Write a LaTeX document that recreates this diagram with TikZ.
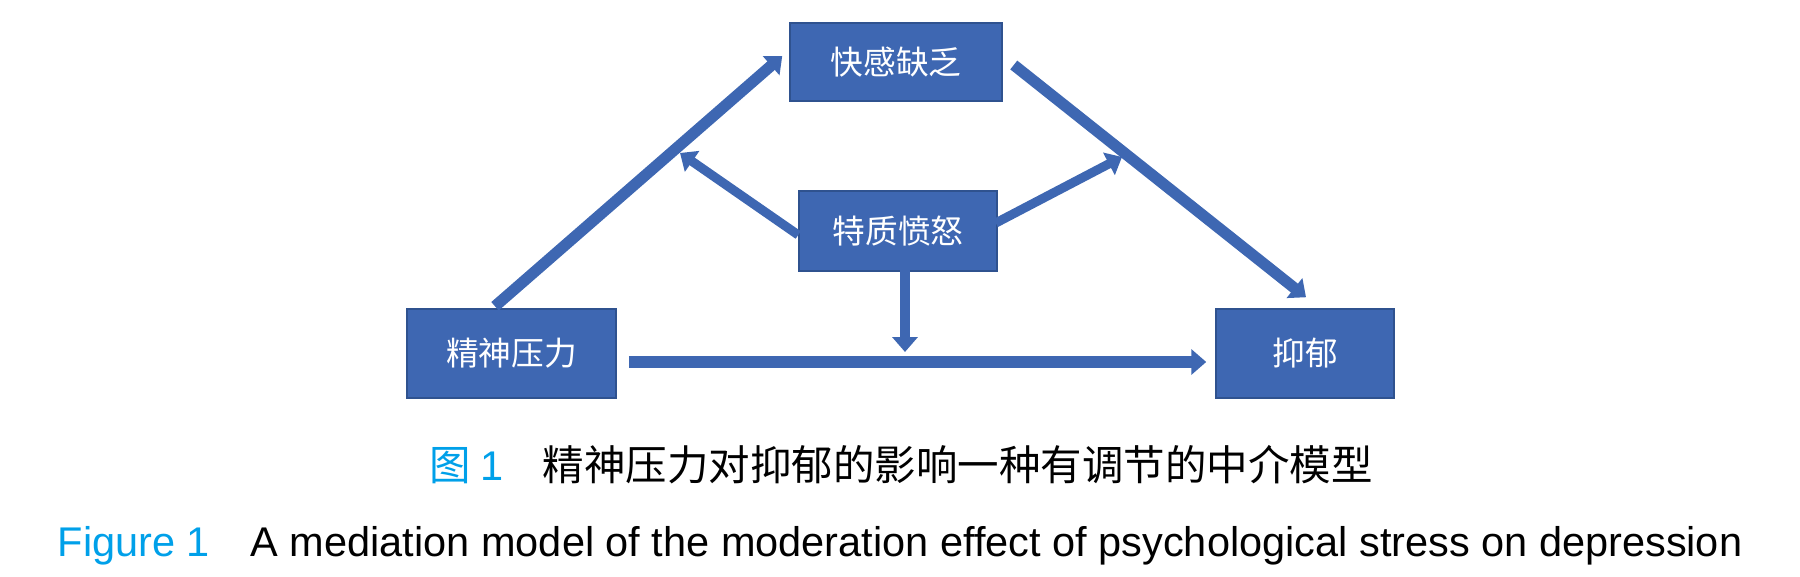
\documentclass[tikz,border=0pt]{standalone}
\usepackage{fontspec}
\usetikzlibrary{arrows.meta, calc}

\newfontfamily\cjk{Noto Sans CJK SC}
\newfontfamily\arial{Liberation Sans}

\definecolor{boxblue}{RGB}{62,103,178}
\definecolor{boxline}{RGB}{47,82,143}
\definecolor{capblue}{RGB}{0,160,233}

\tikzset{
	var/.style = {draw = boxline, fill = boxblue, text = white, inner sep = 0pt, font = \fontsize{9.3}{11}\cjk},
	captext/.style = {anchor = base west, inner sep = 0pt}
}

\begin{document}
\begin{tikzpicture}[> = {Triangle[length = 4.2pt, width = 7pt]}, x = 0.01cm, y = -0.01cm]
	
	\useasboundingbox (0, 0) rectangle (1800, 577);
	
	% The four variables
	
	\node [var, minimum width = 2.12cm, minimum height = 0.78cm] (anhedonia) at (896, 62) {快感缺乏};
	\node [var, minimum width = 1.98cm, minimum height = 0.80cm] (anger) at (898, 231) {特质愤怒};
	\node [var, minimum width = 2.09cm, minimum height = 0.89cm] (stress) at (511.5, 353.5) {精神压力};
	\node [var, minimum width = 1.78cm, minimum height = 0.89cm] (depr) at (1305, 353.5) {抑郁};
	
	% Points where the moderator meets the paths
	
	\coordinate (modA) at (680, 153);
	\coordinate (modB) at (1122, 157);
	\coordinate (modC) at (905, 352);
	
	% Mediation paths
	
	\begin{scope}[->, boxblue, line width = 3.2pt]
	
		\draw ($(stress.north) + (-16.5, -2)$) -- ($(anhedonia.west) + (-7, -6)$);
		\draw ($(anhedonia.east) + (11, 3)$) -- ($(depr.north) + (1, -11)$);
		\draw ($(stress.east) + (12, 8.5)$) -- ($(depr.west) + (-9, 8.5)$);
		
	\end{scope}
	
	% Moderation by trait anger
	
	\begin{scope}[->, boxblue, line width = 2.6pt]
	
		\draw ($(anger.west) + (0, 4)$) -- (modA);
		\draw ($(anger.east) + (-2, -8)$) -- (modB);
		\draw ($(anger.south) + (7, -4)$) -- (modC);
		
	\end{scope}
	
	% Caption
	
	\node [captext, text = capblue, font = \fontsize{11.8}{14}\cjk] (cnlabel) at (429, 481) {图 {\arial 1}};
	\node [captext, font = \fontsize{11.8}{14}\cjk] (cntitle) at (542, 481) {精神压力对抑郁的影响一种有调节的中介模型};
	\node [captext, text = capblue, font = \fontsize{11.8}{14}\arial] (enlabel) at (57, 557) {Figure 1};
	\node [captext, font = \fontsize{11.8}{14}\arial] (entitle) at (250, 557) {A mediation model of the moderation effect of psychological stress on depression};

\end{tikzpicture}
\end{document}
